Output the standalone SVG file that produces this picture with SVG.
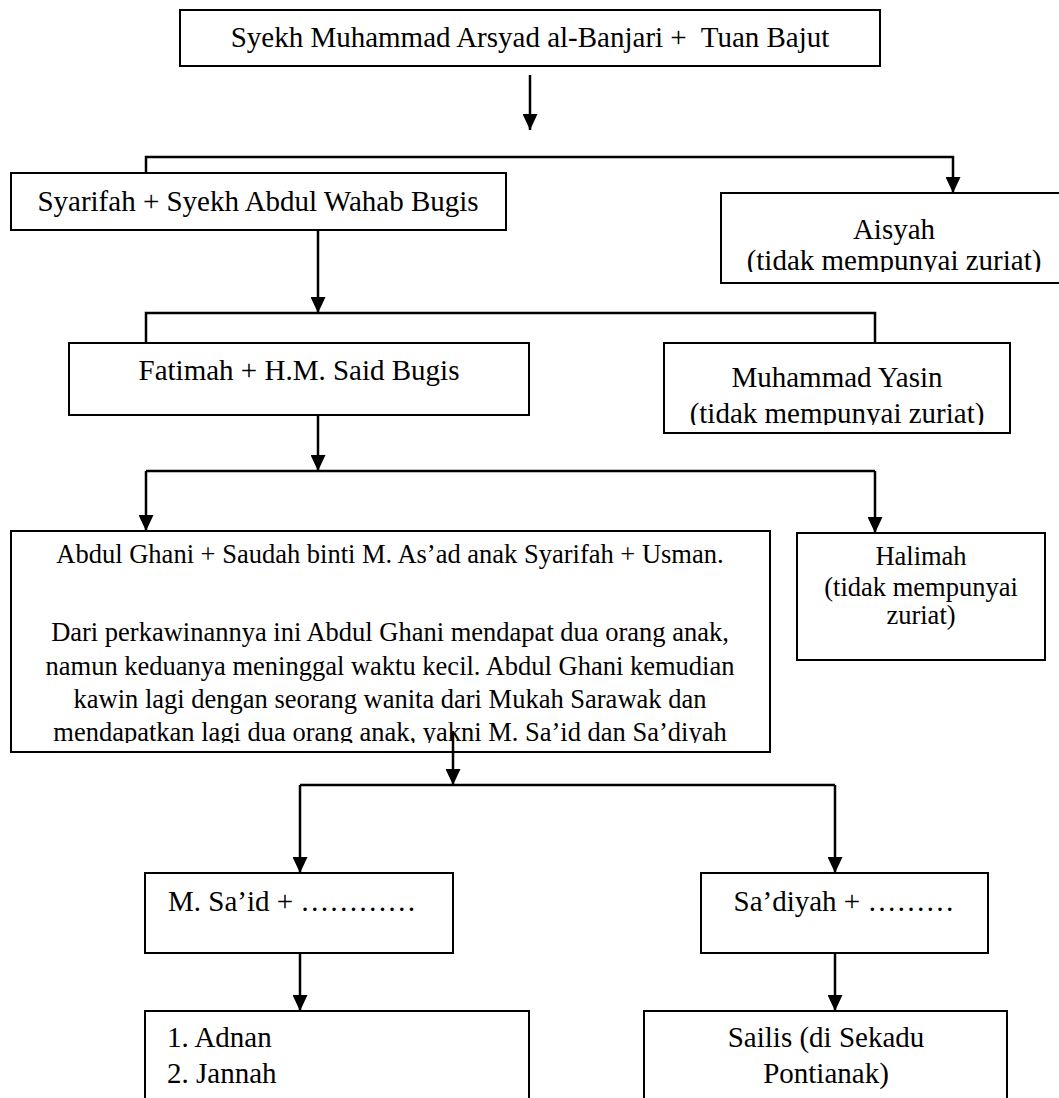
<svg xmlns="http://www.w3.org/2000/svg" width="1059" height="1098" viewBox="0 0 1059 1098">
<style>
.box{fill:#fff;stroke:#000;stroke-width:2}
.t{font-family:"Liberation Serif","Times New Roman",serif;font-size:29px;fill:#000}
.s{font-size:26.5px}
.c{text-anchor:middle}
.conn{fill:none;stroke:#000;stroke-width:2.5}
</style>
<defs>
<marker id="ah" markerUnits="userSpaceOnUse" markerWidth="16" markerHeight="15" viewBox="0 0 16 15" refX="16" refY="7.5" orient="auto">
<path d="M0,0 L16,7.5 L0,15 z" fill="#000"/>
</marker>
<clipPath id="clipA"><rect x="722" y="194" width="340" height="78"/></clipPath>
<clipPath id="clipMY"><rect x="665" y="345" width="344" height="80"/></clipPath>
<clipPath id="clipAG"><rect x="12" y="532" width="757" height="211"/></clipPath>
</defs>
<g id="n-root">
<rect class="box" x="180" y="10" width="700" height="56"/>
<text class="t c" x="530" y="47" xml:space="preserve">Syekh Muhammad Arsyad al-Banjari +  Tuan Bajut</text>
</g>
<g id="n-syarifah">
<rect class="box" x="11" y="173" width="495" height="57"/>
<text class="t c" x="258" y="211">Syarifah + Syekh Abdul Wahab Bugis</text>
</g>
<g id="n-aisyah">
<rect class="box" x="721" y="193" width="345" height="90"/>
<g clip-path="url(#clipA)">
<text class="t c" x="894" y="239">Aisyah</text>
<text class="t c" x="894" y="270">(tidak mempunyai zuriat)</text>
</g>
</g>
<g id="n-fatimah">
<rect class="box" x="69" y="343" width="460" height="72"/>
<text class="t c" x="299" y="380">Fatimah + H.M. Said Bugis</text>
</g>
<g id="n-yasin">
<rect class="box" x="664" y="343" width="346" height="90"/>
<g clip-path="url(#clipMY)">
<text class="t c" x="837" y="387">Muhammad Yasin</text>
<text class="t c" x="837" y="423">(tidak mempunyai zuriat)</text>
</g>
</g>
<g id="n-abdulghani">
<rect class="box" x="11" y="531" width="759" height="221"/>
<g clip-path="url(#clipAG)">
<text class="t s c" x="390" y="563">Abdul Ghani + Saudah binti M. As’ad anak Syarifah + Usman.</text>
<text class="t s c" x="390" y="641">Dari perkawinannya ini Abdul Ghani mendapat dua orang anak,</text>
<text class="t s c" x="390" y="675">namun keduanya meninggal waktu kecil. Abdul Ghani kemudian</text>
<text class="t s c" x="390" y="708">kawin lagi dengan seorang wanita dari Mukah Sarawak dan</text>
<text class="t s c" x="390" y="741">mendapatkan lagi dua orang anak, yakni M. Sa’id dan Sa’diyah</text>
</g>
</g>
<g id="n-halimah">
<rect class="box" x="797" y="533" width="248" height="127"/>
<text class="t s c" x="921" y="565">Halimah</text>
<text class="t s c" x="921" y="596">(tidak mempunyai</text>
<text class="t s c" x="921" y="624">zuriat)</text>
</g>
<g id="n-msaid">
<rect class="box" x="145" y="873" width="308" height="80"/>
<text class="t" x="168" y="911">M. Sa’id + …………</text>
</g>
<g id="n-sadiyah">
<rect class="box" x="701" y="873" width="287" height="80"/>
<text class="t c" x="844" y="911">Sa’diyah + ………</text>
</g>
<g id="n-adnan">
<rect class="box" x="145" y="1011" width="384" height="100"/>
<text class="t" x="167" y="1047">1. Adnan</text>
<text class="t" x="167" y="1083">2. Jannah</text>
</g>
<g id="n-sailis">
<rect class="box" x="644" y="1011" width="363" height="100"/>
<text class="t c" x="826" y="1047">Sailis (di Sekadu</text>
<text class="t c" x="826" y="1083">Pontianak)</text>
</g>
<g id="connectors">
<line class="conn" x1="530" y1="75" x2="530" y2="130" marker-end="url(#ah)"/>
<path class="conn" d="M146,173 V157 H953 V193" marker-end="url(#ah)"/>
<line class="conn" x1="318" y1="230" x2="318" y2="313" marker-end="url(#ah)"/>
<path class="conn" d="M146,343 V313 H875 V343"/>
<line class="conn" x1="318" y1="415" x2="318" y2="471" marker-end="url(#ah)"/>
<path class="conn" d="M146,471 H875"/>
<line class="conn" x1="146" y1="471" x2="146" y2="531" marker-end="url(#ah)"/>
<line class="conn" x1="875" y1="471" x2="875" y2="533" marker-end="url(#ah)"/>
<line class="conn" x1="453" y1="731" x2="453" y2="785" marker-end="url(#ah)"/>
<path class="conn" d="M300,785 H835"/>
<line class="conn" x1="300" y1="785" x2="300" y2="873" marker-end="url(#ah)"/>
<line class="conn" x1="835" y1="785" x2="835" y2="873" marker-end="url(#ah)"/>
<line class="conn" x1="300" y1="953" x2="300" y2="1011" marker-end="url(#ah)"/>
<line class="conn" x1="835" y1="953" x2="835" y2="1011" marker-end="url(#ah)"/>
</g>
</svg>
